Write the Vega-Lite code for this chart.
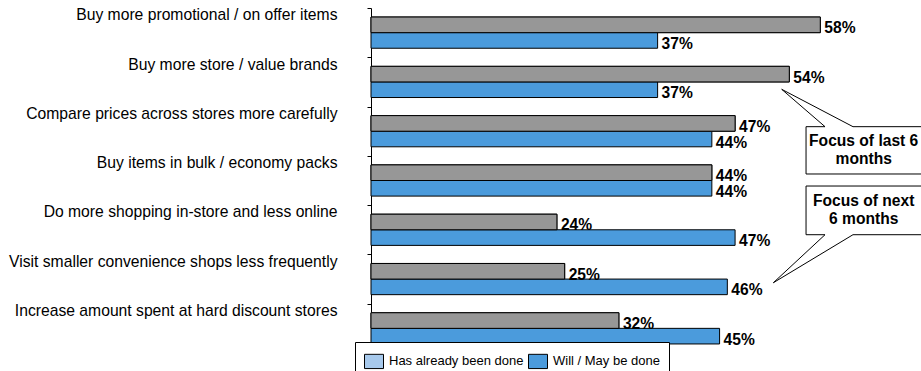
{
  "$schema": "https://vega.github.io/schema/vega-lite/v6.json",
  "autosize": "none",
  "width": 550,
  "height": 345,
  "padding": {"left": 371, "top": 8, "right": 0, "bottom": 18},
  "background": "white",
  "config": {"view": {"stroke": null}, "font": "Liberation Sans"},
  "datasets": {
    "bars": [
      {"measure": "Buy more promotional / on offer items", "series": "Has already been done", "value": 0.58},
      {"measure": "Buy more promotional / on offer items", "series": "Will / May be done", "value": 0.37},
      {"measure": "Buy more store / value brands", "series": "Has already been done", "value": 0.54},
      {"measure": "Buy more store / value brands", "series": "Will / May be done", "value": 0.37},
      {"measure": "Compare prices across stores more carefully", "series": "Has already been done", "value": 0.47},
      {"measure": "Compare prices across stores more carefully", "series": "Will / May be done", "value": 0.44},
      {"measure": "Buy items in bulk / economy packs", "series": "Has already been done", "value": 0.44},
      {"measure": "Buy items in bulk / economy packs", "series": "Will / May be done", "value": 0.44},
      {"measure": "Do more shopping in-store and less online", "series": "Has already been done", "value": 0.24},
      {"measure": "Do more shopping in-store and less online", "series": "Will / May be done", "value": 0.47},
      {"measure": "Visit smaller convenience shops less frequently", "series": "Has already been done", "value": 0.25},
      {"measure": "Visit smaller convenience shops less frequently", "series": "Will / May be done", "value": 0.46},
      {"measure": "Increase amount spent at hard discount stores", "series": "Has already been done", "value": 0.32},
      {"measure": "Increase amount spent at hard discount stores", "series": "Will / May be done", "value": 0.45}
    ],
    "callouts": [
      {"box": "a", "step": 0, "px": 0.5616, "py": 2.408},
      {"box": "a", "step": 1, "px": 0.5861, "py": 2.408},
      {"box": "a", "step": 2, "px": 0.5302, "py": 1.65},
      {"box": "a", "step": 3, "px": 0.6222, "py": 2.408},
      {"box": "a", "step": 4, "px": 0.73, "py": 2.408},
      {"box": "a", "step": 5, "px": 0.73, "py": 3.368},
      {"box": "a", "step": 6, "px": 0.5616, "py": 3.368},
      {"box": "a", "step": 7, "px": 0.5616, "py": 2.408},
      {"box": "b", "step": 0, "px": 0.5616, "py": 3.612},
      {"box": "b", "step": 1, "px": 0.73, "py": 3.612},
      {"box": "b", "step": 2, "px": 0.73, "py": 4.6},
      {"box": "b", "step": 3, "px": 0.6222, "py": 4.6},
      {"box": "b", "step": 4, "px": 0.5194, "py": 5.574},
      {"box": "b", "step": 5, "px": 0.5861, "py": 4.6},
      {"box": "b", "step": 6, "px": 0.5616, "py": 4.6},
      {"box": "b", "step": 7, "px": 0.5616, "py": 3.612}
    ],
    "notes": [
      {"px": 0.636, "py": 2.8, "t": "Focus of last 6"},
      {"px": 0.636, "py": 3.171, "t": "months"},
      {"px": 0.636, "py": 4.017, "t": "Focus of next"},
      {"px": 0.636, "py": 4.389, "t": "6 months"}
    ]
  },
  "layer": [
    {
      "data": {"name": "bars"},
      "encoding": {
        "y": {
          "field": "measure", "type": "nominal",
          "sort": [
            "Buy more promotional / on offer items",
            "Buy more store / value brands",
            "Compare prices across stores more carefully",
            "Buy items in bulk / economy packs",
            "Do more shopping in-store and less online",
            "Visit smaller convenience shops less frequently",
            "Increase amount spent at hard discount stores"
          ],
          "scale": {"paddingInner": 0, "paddingOuter": 0},
          "axis": {
            "title": null, "domainColor": "black", "domainWidth": 1,
            "tickColor": "black", "tickWidth": 1, "tickSize": 4, "tickBand": "extent",
            "labelFontSize": 15.7, "labelFont": "Liberation Sans", "labelColor": "black",
            "labelPadding": 30, "labelBaseline": "alphabetic", "labelOffset": -12.8,
            "labelLimit": 400, "grid": false
          }
        },
        "yOffset": {
          "field": "series", "type": "nominal",
          "sort": ["Has already been done", "Will / May be done"],
          "scale": {"paddingInner": 0, "paddingOuter": 0.58}
        },
        "x": {
          "field": "value", "type": "quantitative",
          "scale": {"domain": [0, 0.71], "nice": false, "zero": true},
          "axis": null
        }
      },
      "layer": [
        {
          "mark": {"type": "bar", "stroke": "black", "strokeWidth": 1},
          "encoding": {
            "fill": {
              "field": "series", "type": "nominal",
              "scale": {"domain": ["Has already been done", "Will / May be done"], "range": ["#a7c9ec", "#4b9bdc"]},
              "legend": {
                "orient": "none", "legendX": -16, "legendY": 334,
                "direction": "horizontal", "title": null,
                "strokeColor": "black", "fillColor": "white", "padding": 9,
                "symbolType": "M-1,-0.75H1V0.75H-1Z", "symbolSize": 361,
                "symbolStrokeColor": "black", "symbolStrokeWidth": 1, "symbolOpacity": 1,
                "labelFontSize": 13, "labelFont": "Liberation Sans", "labelColor": "black",
                "labelOffset": 5, "columnPadding": 2
              }
            }
          }
        },
        {
          "transform": [{"filter": "datum.series === 'Has already been done'"}],
          "mark": {"type": "bar", "stroke": "black", "strokeWidth": 1, "fill": "#979797"},
          "encoding": {}
        },
        {
          "mark": {
            "type": "text", "align": "left", "baseline": "middle", "dx": 4, "dy": 3.5,
            "fontSize": 15.6, "fontWeight": "bold", "font": "Liberation Sans", "color": "black"
          },
          "encoding": {
            "text": {"field": "value", "type": "quantitative", "format": ".0%"}
          }
        }
      ]
    },
    {
      "encoding": {
        "x": {
          "field": "px", "type": "quantitative",
          "scale": {"domain": [0, 0.71], "nice": false, "zero": true},
          "axis": null
        },
        "y": {
          "field": "py", "type": "quantitative",
          "scale": {"domain": [0, 7], "reverse": true, "nice": false, "zero": false},
          "axis": null
        }
      },
      "layer": [
        {
          "data": {"name": "callouts"},
          "mark": {"type": "line", "stroke": "black", "strokeWidth": 1, "strokeJoin": "miter"},
          "encoding": {
            "detail": {"field": "box", "type": "nominal"},
            "order": {"field": "step", "type": "quantitative"}
          }
        },
        {
          "data": {"name": "notes"},
          "mark": {
            "type": "text", "align": "center", "baseline": "alphabetic",
            "fontSize": 15.6, "fontWeight": "bold", "font": "Liberation Sans", "color": "black"
          },
          "encoding": {
            "text": {"field": "t", "type": "nominal"}
          }
        }
      ]
    }
  ],
  "resolve": {"scale": {"y": "independent"}}
}
